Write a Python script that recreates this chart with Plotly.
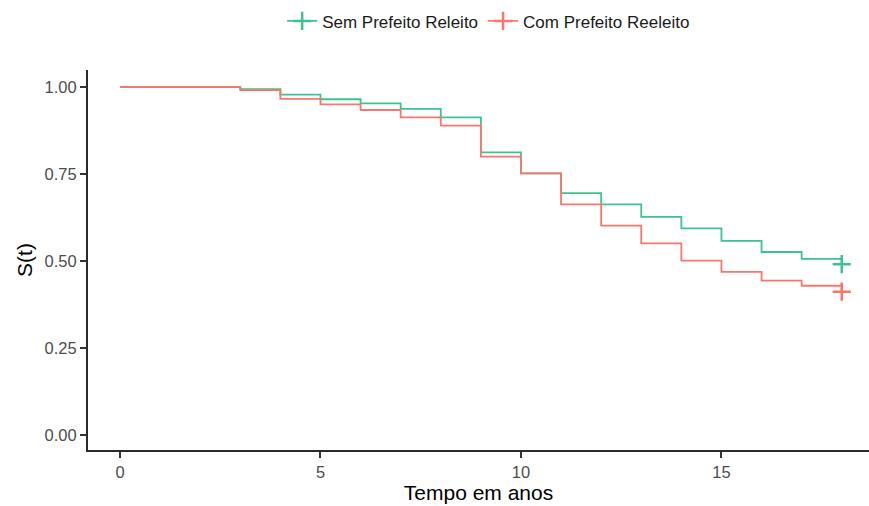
import plotly.graph_objects as go

# Kaplan-Meier estimates by year
tempo = [0, 3, 4, 5, 6, 7, 8, 9, 10, 11, 12, 13, 14, 15, 16, 17, 18]
surv_sem = [1.0, 0.994, 0.978, 0.965, 0.953, 0.937, 0.913, 0.812, 0.752,
            0.695, 0.663, 0.627, 0.594, 0.558, 0.526, 0.506, 0.491]
surv_com = [1.0, 0.991, 0.966, 0.950, 0.934, 0.913, 0.889, 0.800, 0.752,
            0.663, 0.602, 0.551, 0.501, 0.469, 0.444, 0.429, 0.412]

grupos = ["Sem Prefeito Releito", "Com Prefeito Reeleito"]
cores = ["#3CC48E", "#F8766D"]
x_ticks = [0, 5, 10, 15]
y_ticks = [0.0, 0.25, 0.5, 0.75, 1.0]
y_ticklabels = ["0.00", "0.25", "0.50", "0.75", "1.00"]

fig = go.Figure()
for nome, cor, s in zip(grupos, cores, [surv_sem, surv_com]):
    # survival step curve
    fig.add_trace(go.Scatter(
        x=tempo, y=s, mode="lines", line=dict(color=cor, width=1.8, shape="hv"),
        legendgroup=nome, showlegend=False, hoverinfo="skip"))
    # censoring mark at the last follow-up time
    fig.add_trace(go.Scatter(
        x=[tempo[-1]], y=[s[-1]], mode="lines+markers", name=nome,
        legendgroup=nome,
        line=dict(color=cor, width=1.8),
        marker=dict(symbol="cross-thin", size=13, color=cor,
                    line=dict(color=cor, width=2.5))))

fig.update_layout(
    width=869, height=506,
    margin=dict(l=88, r=0, t=70, b=56),
    plot_bgcolor="white", paper_bgcolor="white",
    font=dict(family="Liberation Sans, Arial, sans-serif", color="black"),
    showlegend=True,
    legend=dict(orientation="h", x=0.513, xanchor="center", y=1.128,
                yanchor="middle", font=dict(size=17, color="#1a1a1a"),
                itemwidth=30, tracegroupgap=0),
    xaxis=dict(range=[-0.798, 18.68], tickvals=x_ticks,
               showgrid=False, zeroline=False,
               showline=True, linecolor="#2b2b2b", linewidth=2,
               ticks="outside", ticklen=6, tickwidth=1.5, tickcolor="#333333",
               tickfont=dict(size=16.5, color="#4D4D4D"),
               title=dict(text="Tempo em anos", font=dict(size=21),
                          standoff=4)),
    yaxis=dict(range=[-0.043, 1.049], tickvals=y_ticks, ticktext=y_ticklabels,
               showgrid=False, zeroline=False,
               showline=True, linecolor="#2b2b2b", linewidth=2,
               ticks="outside", ticklen=6, tickwidth=1.5, tickcolor="#333333",
               tickfont=dict(size=16.5, color="#4D4D4D"),
               title=dict(text="S(t)", font=dict(size=21), standoff=6)),
)

fig.write_html("out.html")
